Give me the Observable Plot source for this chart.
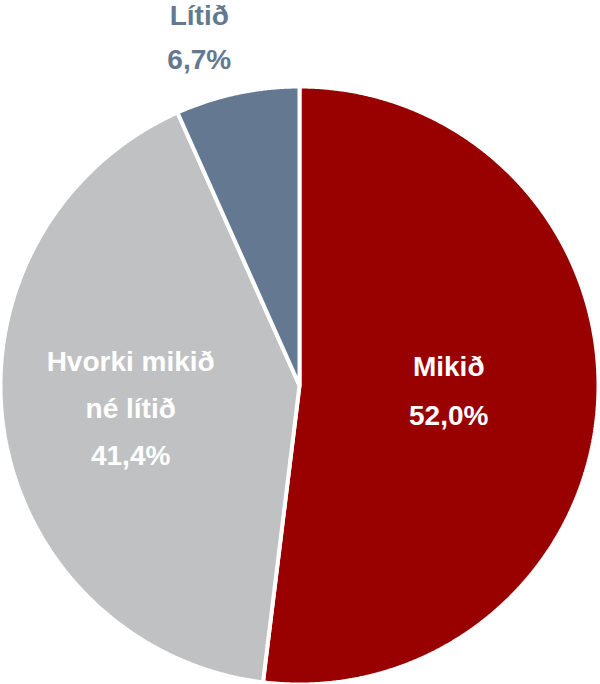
<!DOCTYPE html>
<html><head><meta charset="utf-8">
<script src="https://cdn.jsdelivr.net/npm/d3@7"></script>
<script src="https://cdn.jsdelivr.net/npm/@observablehq/plot@0.6"></script>
<style>
body{margin:0;background:#fff;}
</style>
</head><body><div id="chart"></div>
<script>
const categories = ["Mikið", "Hvorki mikið\nné lítið", "Lítið"];
const values = [52.0, 41.4, 6.7];
const valueLabels = ["52,0%", "41,4%", "6,7%"];
const colors = ["#990000", "#c0c1c3", "#647891"];
const textColors = ["#ffffff", "#ffffff", "#647891"];

const pie = d3.pie().sort(null).value(d => d.value)(
  categories.map((c, i) => ({category: c, value: values[i], label: valueLabels[i], color: colors[i], textColor: textColors[i]}))
);

// polygon in planar unit coordinates, angle clockwise from 12 o'clock
function pt(a, r) { return [r * Math.sin(a), r * Math.cos(a)]; }
const slices = pie.map(p => {
  const n = Math.max(4, Math.ceil((p.endAngle - p.startAngle) / 0.005));
  const ring = [[0, 0]];
  for (let k = 0; k <= n; k++) ring.push(pt(p.startAngle + (p.endAngle - p.startAngle) * k / n, 1));
  ring.push([0, 0]);
  return {type: "Feature", properties: p.data, geometry: {type: "Polygon", coordinates: [ring]}};
});

// fitting domain: the unit circle plus headroom for the outside label
const domain = {type: "MultiPoint", coordinates: [...d3.range(0, 360, 2).map(d => pt(d * Math.PI / 180, 1)), [0, 1.2876]]};

const labels = pie.map((p, i) => {
  const mid = (p.startAngle + p.endAngle) / 2;
  const inside = p.data.value > 10;
  const r = inside ? 0.5 : 1.19;
  const [x, y] = pt(mid, r);
  return {x, y, text: p.data.category + "\n" + p.data.label, color: p.data.textColor, inside, i};
});

const font = {fontSize: 28, fontWeight: "bold"};
const chart = Plot.plot({
  width: 600,
  height: 684,
  marginTop: 0,
  marginBottom: 0,
  marginLeft: 0,
  marginRight: 2,
  projection: {type: "reflect-y", domain},
  style: {fontFamily: "'Liberation Sans', Arial, sans-serif", background: "#fff"},
  marks: [
    Plot.geo(slices, {fill: d => d.properties.color, stroke: "#fff", strokeWidth: 4, strokeLinejoin: "miter"}),
    Plot.text(labels.filter(d => d.i === 0), {x: "x", y: "y", text: "text", fill: "color", ...font, lineHeight: 1.74, dy: -10}),
    Plot.text(labels.filter(d => d.i === 1), {x: "x", y: "y", text: "text", fill: "color", ...font, lineHeight: 1.69, dx: -21, dy: -5}),
    Plot.text(labels.filter(d => d.i === 2), {x: "x", y: "y", text: "text", fill: "color", ...font, lineHeight: 1.58, dx: -26, dy: -5})
  ]
});
document.getElementById("chart").append(chart);
</script>
</body></html>
